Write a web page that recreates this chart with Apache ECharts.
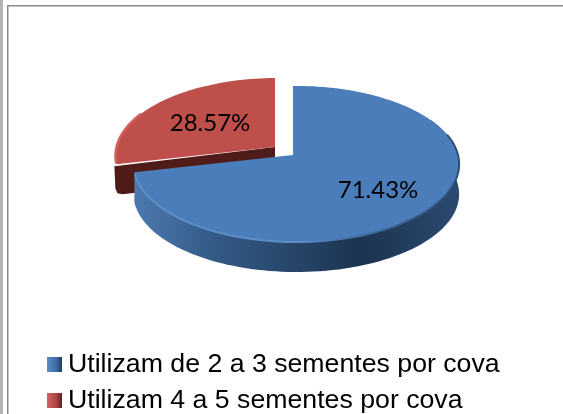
<!DOCTYPE html>
<html><head><meta charset="utf-8">
<style>html,body{margin:0;padding:0;background:#fff}#c{width:563px;height:414px}</style>
<script src="https://cdn.jsdelivr.net/npm/echarts@6/dist/echarts.min.js"></script>
</head><body><div id="c"></div>
<script>
var categories = ['Utilizam de 2 a 3 sementes por cova', 'Utilizam 4 a 5 sementes por cova'];
var sliceValues = [71.43, 28.57];

var chart = echarts.init(document.getElementById('c'), null, {renderer:'canvas'});
var LG = echarts.graphic.LinearGradient;
var total = sliceValues[0] + sliceValues[1];
var Rx = 161.7, Ry = 77, kc = 0.115, ks = -0.02, depth = 30;

function pt(ax, ay, deg, dy) {
  var t = deg * Math.PI / 180, s = Math.sin(t), c = Math.cos(t), w = 1 + kc * c + ks * s;
  return [ax + Rx * s / w, ay - Ry * c / w + (dy || 0)];
}
function arc(ax, ay, a, b, dy) {
  var out = [], n = Math.max(2, Math.ceil(Math.abs(b - a) / 2));
  for (var i = 0; i <= n; i++) out.push(pt(ax, ay, a + (b - a) * i / n, dy));
  return out;
}
function poly(points, fill) { return {type:'polygon', shape:{points:points}, style:{fill:fill}, silent:true}; }
function line(points, stroke, w) { return {type:'polyline', shape:{points:points}, style:{stroke:stroke, fill:null, lineWidth:w, lineCap:'round', lineJoin:'round'}, silent:true}; }
function label(v, x, y) {
  return {type:'text', x:x, y:y, silent:true, style:{text:v.toFixed(2) + '%', font:'24px Lato', fill:'#000', align:'center', verticalAlign:'middle'}};
}

function renderBlue(params, api) {
  var v = api.value(0), end = 360 * v / total, ax = 293, ay = 155;
  var top = arc(ax, ay, 0, end);
  var sideTop = arc(ax, ay, 62, end), sideBot = arc(ax, ay, end, 62, depth);
  var rimStroke = new LG(134,0,458,0,[
    {offset:0,color:'#5f90cb'},{offset:0.5,color:'#5c8cc6'},{offset:0.72,color:'#3f6a9c'},{offset:1,color:'#2c4d75'}],true);
  return {type:'group', children:[
    poly(sideTop.concat(sideBot), new LG(134,0,458,0,[
      {offset:0,color:'#4c7ab0'},{offset:0.25,color:'#335a86'},{offset:0.7,color:'#1c3350'},{offset:1,color:'#2b4a70'}],true)),
    poly([[ax,ay]].concat(top), '#4a7db9'),
    line(arc(ax, ay, 75, end-2, 0), rimStroke, 2),
    label(v, 378, 190)
  ]};
}
function renderRed(params, api) {
  var v = api.value(0), start = 360 * sliceValues[0] / total, ax = 275, ay = 147;
  var e = pt(ax, ay, start), top = arc(ax, ay, start, start + 360 * v / total);
  var bl = [e[0], e[1] + depth];
  return {type:'group', children:[
    poly([[ax,ay],[e[0]-2,e[1]+2],[bl[0]-1,bl[1]-6],[bl[0]+1,bl[1]-1],[bl[0]+6,bl[1]],[ax,ay+depth]], '#4f1c1a'),
    poly([[ax,ay]].concat(top), '#be4f4b'),
    line(arc(ax, ay, start+1, start+40, 0), '#d3605b', 2.4),
    label(v, 210, 123)
  ]};
}
function legendRow(name, top, stops) {
  return {
    orient:'vertical', left:47, top:top, itemWidth:15, itemHeight:15, padding:0,
    selectedMode:false,
    textStyle:{fontFamily:'Liberation Sans', fontSize:26.7, lineHeight:29, color:'#000', padding:[0,0,0,1]},
    data:[{name:name, icon:'rect', itemStyle:{color:new LG(0,0,1,0,stops)}}]
  };
}

chart.setOption({
  animation:false,
  backgroundColor:'#fff',
  legend:[
    legendRow(categories[0], 350, [{offset:0,color:'#5b8cc8'},{offset:0.6,color:'#3f6ea6'},{offset:1,color:'#1f3d62'}]),
    legendRow(categories[1], 386, [{offset:0,color:'#cf6360'},{offset:0.6,color:'#b04643'},{offset:1,color:'#5e2220'}])
  ],
  graphic:[
    {type:'rect', shape:{x:0,y:0,width:3,height:414}, style:{fill:'#b4b4b4'}, silent:true},
    {type:'rect', shape:{x:7,y:5,width:1.5,height:409}, style:{fill:'#8a8a8a'}, silent:true},
    {type:'rect', shape:{x:7,y:5,width:556,height:1.5}, style:{fill:'#8a8a8a'}, silent:true}
  ],
  series:[
    {type:'custom', name:categories[1], coordinateSystem:'none', renderItem:renderRed, data:[[sliceValues[1]]], itemStyle:{color:'#be4f4b'}, silent:true},
    {type:'custom', name:categories[0], coordinateSystem:'none', renderItem:renderBlue, data:[[sliceValues[0]]], itemStyle:{color:'#4a7db9'}, silent:true}
  ]
});
</script></body></html>
